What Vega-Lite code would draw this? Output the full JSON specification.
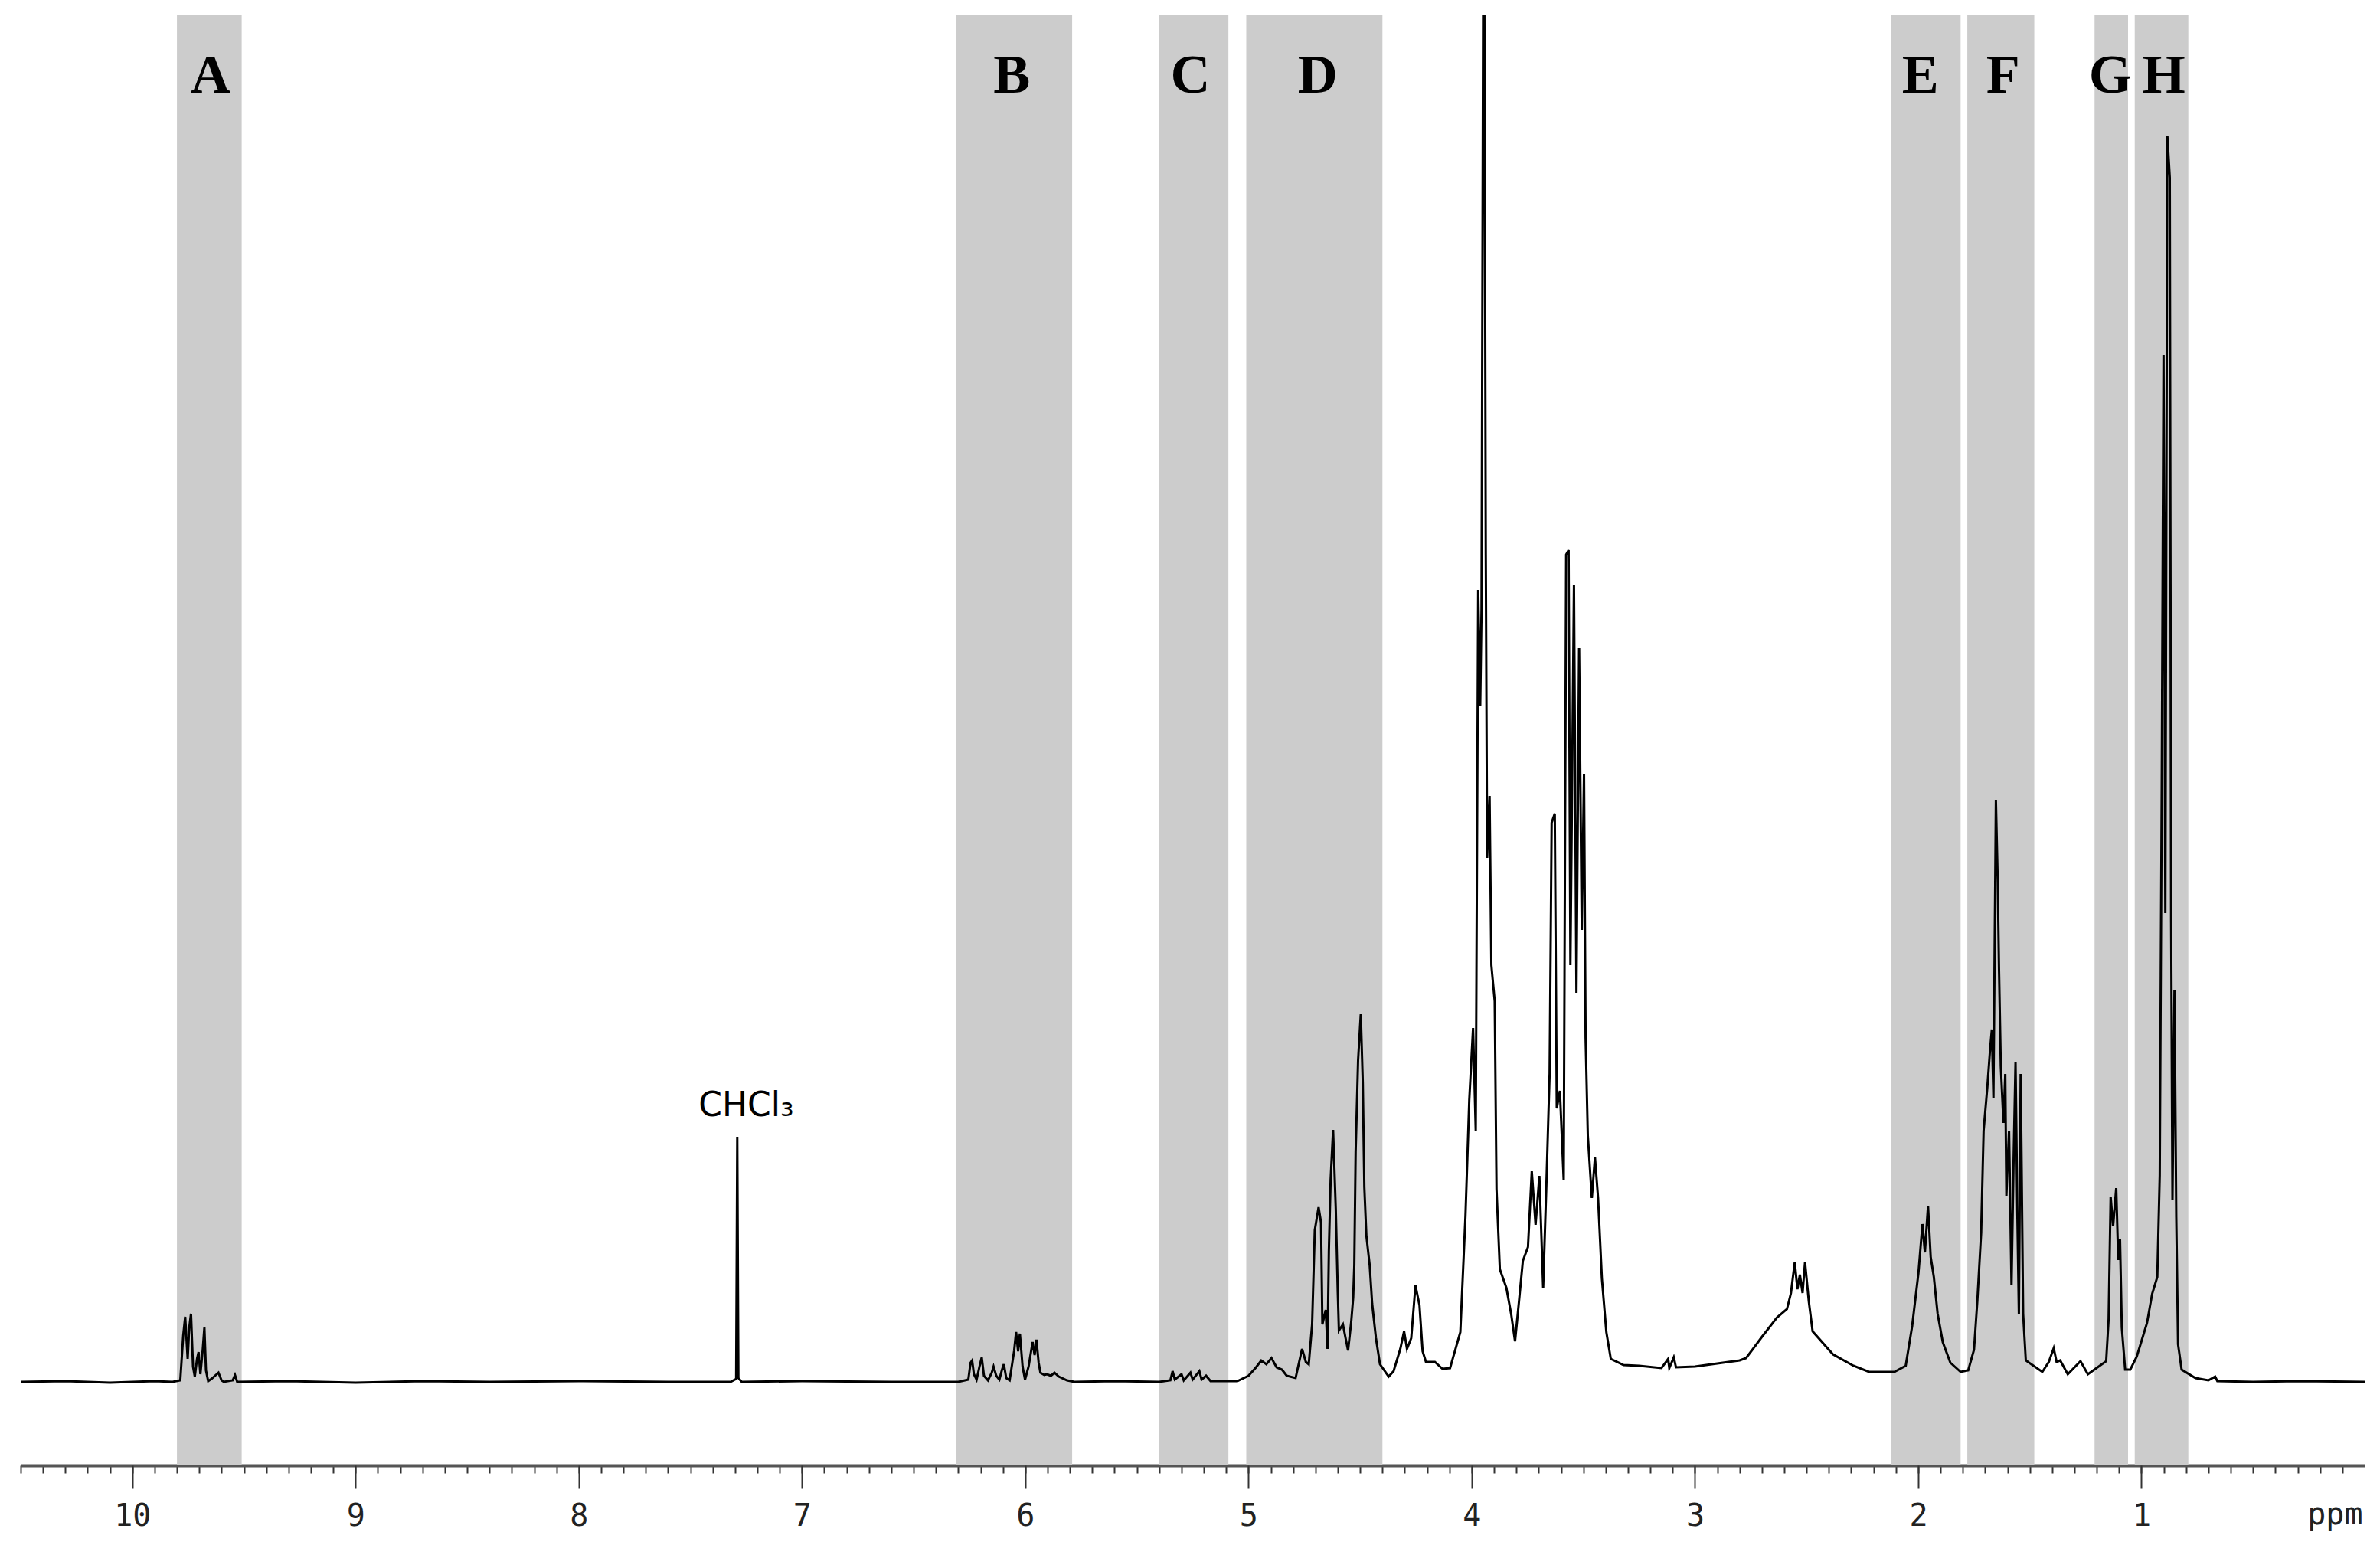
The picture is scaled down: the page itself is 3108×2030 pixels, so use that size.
{
  "$schema": "https://vega.github.io/schema/vega-lite/v6.json",
  "width": 3061,
  "height": 1893,
  "autosize": {"type": "none"},
  "padding": {"left": 27, "top": 20, "right": 20, "bottom": 117},
  "background": "white",
  "config": {"view": {"stroke": null}},
  "resolve": {"axis": {"x": "independent"}},
  "datasets": {
    "bands": [
      {"label": "A", "start": 9.80, "end": 9.51, "mid": 9.65},
      {"label": "B", "start": 6.31, "end": 5.79, "mid": 6.06},
      {"label": "C", "start": 5.40, "end": 5.09, "mid": 5.26},
      {"label": "D", "start": 5.01, "end": 4.40, "mid": 4.69},
      {"label": "E", "start": 2.12, "end": 1.81, "mid": 1.99},
      {"label": "F", "start": 1.78, "end": 1.48, "mid": 1.62},
      {"label": "G", "start": 1.21, "end": 1.06, "mid": 1.14},
      {"label": "H", "start": 1.03, "end": 0.79, "mid": 0.90}
    ],
    "notes": [
      {"label": "CHCl₃", "ppm": 7.25, "intensity": 347}
    ],
    "spectrum": [
      {"ppm": 10.5, "intensity": 0}, {"ppm": 10.3, "intensity": 1}, {"ppm": 10.1, "intensity": -1}, {"ppm": 9.9, "intensity": 1},
      {"ppm": 9.82, "intensity": 0}, {"ppm": 9.785, "intensity": 2}, {"ppm": 9.772, "intensity": 60}, {"ppm": 9.763, "intensity": 85},
      {"ppm": 9.752, "intensity": 30}, {"ppm": 9.745, "intensity": 70}, {"ppm": 9.737, "intensity": 89}, {"ppm": 9.728, "intensity": 20},
      {"ppm": 9.72, "intensity": 7}, {"ppm": 9.71, "intensity": 30}, {"ppm": 9.703, "intensity": 39}, {"ppm": 9.695, "intensity": 10},
      {"ppm": 9.685, "intensity": 40}, {"ppm": 9.677, "intensity": 71}, {"ppm": 9.67, "intensity": 15}, {"ppm": 9.66, "intensity": 1},
      {"ppm": 9.645, "intensity": 4}, {"ppm": 9.614, "intensity": 12}, {"ppm": 9.6, "intensity": 2}, {"ppm": 9.59, "intensity": 0},
      {"ppm": 9.55, "intensity": 2}, {"ppm": 9.54, "intensity": 9}, {"ppm": 9.53, "intensity": 0}, {"ppm": 9.3, "intensity": 1},
      {"ppm": 9.0, "intensity": -1}, {"ppm": 8.7, "intensity": 1}, {"ppm": 8.4, "intensity": 0}, {"ppm": 8.0, "intensity": 1},
      {"ppm": 7.6, "intensity": 0}, {"ppm": 7.32, "intensity": 0}, {"ppm": 7.295, "intensity": 4}, {"ppm": 7.29, "intensity": 320},
      {"ppm": 7.285, "intensity": 5}, {"ppm": 7.27, "intensity": 0}, {"ppm": 7.0, "intensity": 1}, {"ppm": 6.6, "intensity": 0},
      {"ppm": 6.3, "intensity": 0}, {"ppm": 6.255, "intensity": 3}, {"ppm": 6.245, "intensity": 25}, {"ppm": 6.238, "intensity": 28},
      {"ppm": 6.23, "intensity": 10}, {"ppm": 6.218, "intensity": 3}, {"ppm": 6.205, "intensity": 20}, {"ppm": 6.195, "intensity": 32},
      {"ppm": 6.185, "intensity": 8}, {"ppm": 6.167, "intensity": 2}, {"ppm": 6.15, "intensity": 12}, {"ppm": 6.142, "intensity": 20},
      {"ppm": 6.13, "intensity": 8}, {"ppm": 6.116, "intensity": 3}, {"ppm": 6.105, "intensity": 15}, {"ppm": 6.096, "intensity": 23},
      {"ppm": 6.085, "intensity": 5}, {"ppm": 6.07, "intensity": 2}, {"ppm": 6.05, "intensity": 40}, {"ppm": 6.041, "intensity": 65},
      {"ppm": 6.032, "intensity": 40}, {"ppm": 6.024, "intensity": 63}, {"ppm": 6.012, "intensity": 20}, {"ppm": 6.001, "intensity": 3},
      {"ppm": 5.985, "intensity": 20}, {"ppm": 5.967, "intensity": 52}, {"ppm": 5.958, "intensity": 35}, {"ppm": 5.95, "intensity": 55},
      {"ppm": 5.94, "intensity": 25}, {"ppm": 5.932, "intensity": 12}, {"ppm": 5.915, "intensity": 9}, {"ppm": 5.903, "intensity": 10},
      {"ppm": 5.885, "intensity": 8}, {"ppm": 5.869, "intensity": 12}, {"ppm": 5.85, "intensity": 7}, {"ppm": 5.813, "intensity": 2},
      {"ppm": 5.78, "intensity": 0}, {"ppm": 5.6, "intensity": 1}, {"ppm": 5.4, "intensity": 0}, {"ppm": 5.35, "intensity": 2},
      {"ppm": 5.34, "intensity": 14}, {"ppm": 5.33, "intensity": 3}, {"ppm": 5.30, "intensity": 10}, {"ppm": 5.29, "intensity": 2},
      {"ppm": 5.26, "intensity": 12}, {"ppm": 5.25, "intensity": 3}, {"ppm": 5.22, "intensity": 14}, {"ppm": 5.21, "intensity": 3},
      {"ppm": 5.19, "intensity": 8}, {"ppm": 5.17, "intensity": 1}, {"ppm": 5.05, "intensity": 1}, {"ppm": 5.0, "intensity": 8},
      {"ppm": 4.966, "intensity": 19}, {"ppm": 4.943, "intensity": 28}, {"ppm": 4.92, "intensity": 23}, {"ppm": 4.897, "intensity": 31},
      {"ppm": 4.874, "intensity": 19}, {"ppm": 4.85, "intensity": 16}, {"ppm": 4.829, "intensity": 8}, {"ppm": 4.789, "intensity": 5},
      {"ppm": 4.760, "intensity": 43}, {"ppm": 4.743, "intensity": 26}, {"ppm": 4.73, "intensity": 23}, {"ppm": 4.715, "intensity": 75},
      {"ppm": 4.703, "intensity": 198}, {"ppm": 4.686, "intensity": 228}, {"ppm": 4.675, "intensity": 208}, {"ppm": 4.669, "intensity": 75},
      {"ppm": 4.654, "intensity": 94}, {"ppm": 4.646, "intensity": 43}, {"ppm": 4.640, "intensity": 170}, {"ppm": 4.632, "intensity": 264},
      {"ppm": 4.621, "intensity": 329}, {"ppm": 4.609, "intensity": 226}, {"ppm": 4.60, "intensity": 117}, {"ppm": 4.595, "intensity": 67},
      {"ppm": 4.577, "intensity": 75}, {"ppm": 4.565, "intensity": 57}, {"ppm": 4.554, "intensity": 41}, {"ppm": 4.54, "intensity": 78},
      {"ppm": 4.531, "intensity": 110}, {"ppm": 4.526, "intensity": 152}, {"ppm": 4.520, "intensity": 300}, {"ppm": 4.509, "intensity": 420},
      {"ppm": 4.497, "intensity": 480}, {"ppm": 4.488, "intensity": 391}, {"ppm": 4.481, "intensity": 254}, {"ppm": 4.472, "intensity": 191},
      {"ppm": 4.457, "intensity": 152}, {"ppm": 4.446, "intensity": 102}, {"ppm": 4.429, "intensity": 57}, {"ppm": 4.411, "intensity": 23},
      {"ppm": 4.372, "intensity": 7}, {"ppm": 4.35, "intensity": 14}, {"ppm": 4.32, "intensity": 43}, {"ppm": 4.303, "intensity": 66},
      {"ppm": 4.29, "intensity": 43}, {"ppm": 4.271, "intensity": 57}, {"ppm": 4.252, "intensity": 126}, {"ppm": 4.234, "intensity": 100},
      {"ppm": 4.22, "intensity": 40}, {"ppm": 4.205, "intensity": 26}, {"ppm": 4.165, "intensity": 26}, {"ppm": 4.131, "intensity": 17},
      {"ppm": 4.097, "intensity": 18}, {"ppm": 4.051, "intensity": 65}, {"ppm": 4.028, "intensity": 217}, {"ppm": 4.011, "intensity": 368},
      {"ppm": 3.994, "intensity": 462}, {"ppm": 3.982, "intensity": 328}, {"ppm": 3.971, "intensity": 1034}, {"ppm": 3.962, "intensity": 882},
      {"ppm": 3.956, "intensity": 1010}, {"ppm": 3.946, "intensity": 2100}, {"ppm": 3.937, "intensity": 1080}, {"ppm": 3.931, "intensity": 684},
      {"ppm": 3.920, "intensity": 765}, {"ppm": 3.912, "intensity": 544}, {"ppm": 3.897, "intensity": 497}, {"ppm": 3.889, "intensity": 252},
      {"ppm": 3.874, "intensity": 147}, {"ppm": 3.845, "intensity": 123}, {"ppm": 3.823, "intensity": 88}, {"ppm": 3.806, "intensity": 53},
      {"ppm": 3.788, "intensity": 106}, {"ppm": 3.771, "intensity": 158}, {"ppm": 3.748, "intensity": 176}, {"ppm": 3.731, "intensity": 275},
      {"ppm": 3.714, "intensity": 205}, {"ppm": 3.697, "intensity": 269}, {"ppm": 3.680, "intensity": 123}, {"ppm": 3.665, "intensity": 263},
      {"ppm": 3.651, "intensity": 403}, {"ppm": 3.642, "intensity": 730}, {"ppm": 3.628, "intensity": 742}, {"ppm": 3.619, "intensity": 357},
      {"ppm": 3.605, "intensity": 380}, {"ppm": 3.588, "intensity": 263}, {"ppm": 3.577, "intensity": 1080}, {"ppm": 3.566, "intensity": 1086},
      {"ppm": 3.558, "intensity": 544}, {"ppm": 3.542, "intensity": 1040}, {"ppm": 3.531, "intensity": 508}, {"ppm": 3.519, "intensity": 958},
      {"ppm": 3.507, "intensity": 590}, {"ppm": 3.497, "intensity": 794}, {"ppm": 3.49, "intensity": 450}, {"ppm": 3.480, "intensity": 322},
      {"ppm": 3.462, "intensity": 240}, {"ppm": 3.448, "intensity": 293}, {"ppm": 3.434, "intensity": 240}, {"ppm": 3.417, "intensity": 135},
      {"ppm": 3.397, "intensity": 65}, {"ppm": 3.377, "intensity": 30}, {"ppm": 3.32, "intensity": 22}, {"ppm": 3.25, "intensity": 21},
      {"ppm": 3.15, "intensity": 18}, {"ppm": 3.12, "intensity": 30}, {"ppm": 3.115, "intensity": 18}, {"ppm": 3.095, "intensity": 32},
      {"ppm": 3.085, "intensity": 19}, {"ppm": 3.0, "intensity": 20}, {"ppm": 2.9, "intensity": 24}, {"ppm": 2.8, "intensity": 28},
      {"ppm": 2.771, "intensity": 31}, {"ppm": 2.702, "intensity": 58}, {"ppm": 2.633, "intensity": 84}, {"ppm": 2.588, "intensity": 95},
      {"ppm": 2.57, "intensity": 116}, {"ppm": 2.553, "intensity": 156}, {"ppm": 2.541, "intensity": 121}, {"ppm": 2.53, "intensity": 140},
      {"ppm": 2.518, "intensity": 116}, {"ppm": 2.507, "intensity": 156}, {"ppm": 2.49, "intensity": 105}, {"ppm": 2.473, "intensity": 66},
      {"ppm": 2.382, "intensity": 36}, {"ppm": 2.290, "intensity": 21}, {"ppm": 2.22, "intensity": 13}, {"ppm": 2.107, "intensity": 13},
      {"ppm": 2.056, "intensity": 21}, {"ppm": 2.027, "intensity": 73}, {"ppm": 1.999, "intensity": 142}, {"ppm": 1.981, "intensity": 206},
      {"ppm": 1.97, "intensity": 169}, {"ppm": 1.956, "intensity": 230}, {"ppm": 1.944, "intensity": 163}, {"ppm": 1.930, "intensity": 137},
      {"ppm": 1.913, "intensity": 89}, {"ppm": 1.89, "intensity": 52}, {"ppm": 1.856, "intensity": 25}, {"ppm": 1.810, "intensity": 13},
      {"ppm": 1.776, "intensity": 15}, {"ppm": 1.75, "intensity": 42}, {"ppm": 1.735, "intensity": 106}, {"ppm": 1.718, "intensity": 195},
      {"ppm": 1.707, "intensity": 328}, {"ppm": 1.690, "intensity": 386}, {"ppm": 1.678, "intensity": 434}, {"ppm": 1.670, "intensity": 460},
      {"ppm": 1.663, "intensity": 371}, {"ppm": 1.652, "intensity": 759}, {"ppm": 1.644, "intensity": 656}, {"ppm": 1.638, "intensity": 539},
      {"ppm": 1.630, "intensity": 412}, {"ppm": 1.618, "intensity": 338}, {"ppm": 1.610, "intensity": 402}, {"ppm": 1.605, "intensity": 243},
      {"ppm": 1.593, "intensity": 328}, {"ppm": 1.582, "intensity": 126}, {"ppm": 1.573, "intensity": 285}, {"ppm": 1.564, "intensity": 418},
      {"ppm": 1.556, "intensity": 222}, {"ppm": 1.549, "intensity": 89}, {"ppm": 1.541, "intensity": 402}, {"ppm": 1.530, "intensity": 89},
      {"ppm": 1.518, "intensity": 28}, {"ppm": 1.444, "intensity": 13}, {"ppm": 1.415, "intensity": 26}, {"ppm": 1.393, "intensity": 44},
      {"ppm": 1.38, "intensity": 26}, {"ppm": 1.364, "intensity": 28}, {"ppm": 1.330, "intensity": 10}, {"ppm": 1.273, "intensity": 27},
      {"ppm": 1.24, "intensity": 10}, {"ppm": 1.158, "intensity": 27}, {"ppm": 1.147, "intensity": 82}, {"ppm": 1.138, "intensity": 242},
      {"ppm": 1.127, "intensity": 203}, {"ppm": 1.113, "intensity": 253}, {"ppm": 1.104, "intensity": 159}, {"ppm": 1.096, "intensity": 187},
      {"ppm": 1.088, "intensity": 71}, {"ppm": 1.073, "intensity": 16}, {"ppm": 1.05, "intensity": 16}, {"ppm": 1.021, "intensity": 33},
      {"ppm": 0.998, "intensity": 55}, {"ppm": 0.975, "intensity": 77}, {"ppm": 0.952, "intensity": 115}, {"ppm": 0.929, "intensity": 137},
      {"ppm": 0.918, "intensity": 270}, {"ppm": 0.909, "intensity": 777}, {"ppm": 0.901, "intensity": 1340}, {"ppm": 0.893, "intensity": 612},
      {"ppm": 0.884, "intensity": 1627}, {"ppm": 0.873, "intensity": 1572}, {"ppm": 0.867, "intensity": 601}, {"ppm": 0.861, "intensity": 237},
      {"ppm": 0.852, "intensity": 512}, {"ppm": 0.844, "intensity": 215}, {"ppm": 0.836, "intensity": 49}, {"ppm": 0.82, "intensity": 16},
      {"ppm": 0.758, "intensity": 5}, {"ppm": 0.7, "intensity": 2}, {"ppm": 0.67, "intensity": 7}, {"ppm": 0.66, "intensity": 1},
      {"ppm": 0.5, "intensity": 0}, {"ppm": 0.3, "intensity": 1}, {"ppm": 0.0, "intensity": 0}
    ]
  },
  "layer": [
    {
      "data": {"name": "bands"},
      "mark": {"type": "rect", "color": "#cccccc"},
      "encoding": {
        "x": {
          "field": "start",
          "type": "quantitative",
          "scale": {"domain": [0, 10.5], "reverse": true, "nice": false, "zero": false},
          "axis": {
            "orient": "bottom",
            "values": [10.5,10.4,10.3,10.2,10.1,10,9.9,9.8,9.7,9.6,9.5,9.4,9.3,9.2,9.1,9,8.9,8.8,8.7,8.6,8.5,8.4,8.3,8.2,8.1,8,7.9,7.8,7.7,7.6,7.5,7.4,7.3,7.2,7.1,7,6.9,6.8,6.7,6.6,6.5,6.4,6.3,6.2,6.1,6,5.9,5.8,5.7,5.6,5.5,5.4,5.3,5.2,5.1,5,4.9,4.8,4.7,4.6,4.5,4.4,4.3,4.2,4.1,4,3.9,3.8,3.7,3.6,3.5,3.4,3.3,3.2,3.1,3,2.9,2.8,2.7,2.6,2.5,2.4,2.3,2.2,2.1,2,1.9,1.8,1.7,1.6,1.5,1.4,1.3,1.2,1.1,1,0.9,0.8,0.7,0.6,0.5,0.4,0.3,0.2,0.1],
            "labels": false,
            "tickSize": 10,
            "tickColor": "#333333",
            "tickWidth": 2,
            "domainColor": "#555555",
            "domainWidth": 4,
            "grid": false,
            "title": null
          }
        },
        "x2": {"field": "end"}
      }
    },
    {
      "data": {"name": "spectrum"},
      "mark": {"type": "line", "color": "black", "strokeWidth": 3, "clip": true},
      "encoding": {
        "x": {
          "field": "ppm",
          "type": "quantitative",
          "axis": {
            "orient": "bottom",
            "values": [10, 9, 8, 7, 6, 5, 4, 3, 2, 1],
            "format": "d",
            "domain": false,
            "tickSize": 30,
            "tickColor": "#333333",
            "tickWidth": 2,
            "grid": false,
            "labelFont": "DejaVu Sans Mono",
            "labelFontSize": 40,
            "labelColor": "#222222",
            "labelPadding": 48,
            "labelBaseline": "alphabetic",
            "labelOverlap": false,
            "labelFlush": false,
            "labelBound": false,
            "title": "ppm",
            "titleFont": "DejaVu Sans Mono",
            "titleFontSize": 40,
            "titleFontWeight": "normal",
            "titleColor": "#222222",
            "titleAnchor": "end",
            "titleAlign": "right",
            "titleBaseline": "alphabetic",
            "titleX": 3058,
            "titleY": 76
          }
        },
        "y": {"field": "intensity", "type": "quantitative", "scale": {"domain": [-109, 1784], "nice": false, "zero": false}, "axis": null}
      }
    },
    {
      "data": {"name": "bands"},
      "mark": {"type": "text", "font": "Liberation Serif", "fontWeight": "bold", "fontSize": 72, "baseline": "alphabetic", "align": "center", "color": "black"},
      "encoding": {
        "x": {"field": "mid", "type": "quantitative", "axis": null},
        "y": {"datum": 1683, "type": "quantitative", "axis": null},
        "text": {"field": "label"}
      }
    },
    {
      "data": {"name": "notes"},
      "mark": {"type": "text", "font": "DejaVu Sans", "fontSize": 44, "baseline": "alphabetic", "align": "center", "color": "black"},
      "encoding": {
        "x": {"field": "ppm", "type": "quantitative", "axis": null},
        "y": {"field": "intensity", "type": "quantitative", "axis": null},
        "text": {"field": "label"}
      }
    }
  ]
}
